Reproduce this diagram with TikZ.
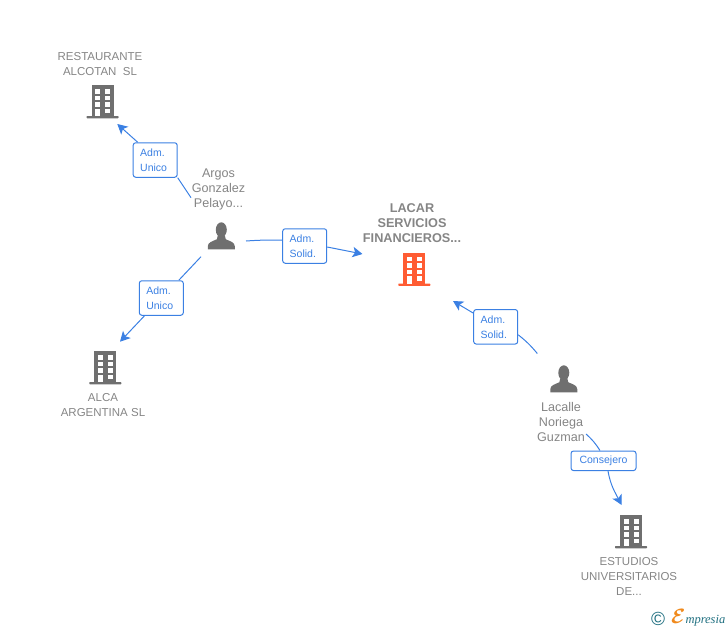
\documentclass[tikz,border=0pt]{standalone}
\usepackage{fontspec}
\setmainfont{Liberation Sans}
\newfontfamily\logofont{Liberation Serif}
\usetikzlibrary{arrows.meta}
\definecolor{linkblue}{HTML}{3B80E3}
\definecolor{icongray}{HTML}{6F6F6F}
\definecolor{textgray}{HTML}{858585}
\definecolor{mainorange}{HTML}{FF5C33}
\definecolor{logoteal}{HTML}{1F6F80}
\definecolor{logoorange}{HTML}{F08A1D}
\tikzset{
  lbl/.style={text=textgray, font=\fontsize{11.5}{15}\selectfont, align=center, inner sep=0pt},
  perslbl/.style={lbl, font=\fontsize{12.6}{15}\selectfont},
  rel/.style={draw=linkblue, fill=white, rounded corners=2.5pt, line width=1pt, text=linkblue,
    font=\fontsize{10.5}{15}\selectfont, align=left, text width=30pt, inner xsep=7pt, inner ysep=0pt,
    minimum width=44pt, minimum height=34.5pt},
  link/.style={draw=linkblue, line width=1pt},
  tip/.style={link, -{Stealth[length=10pt,width=10.5pt,inset=2.5pt]}},
  pics/bldg/.style={code={
    \fill[pic actions] (-11,-31) rectangle (11,0);
    \fill[pic actions, rounded corners=0.6pt] (-16,0) rectangle (16,2.3);
    \foreach \r in {-27,-20.5,-14} {
      \fill[white] (-7.5,\r) rectangle (-2.5,\r+4.5);
      \fill[white] (2.5,\r) rectangle (7.5,\r+4.5);
    }
    \fill[white] (-7.5,-7.5) rectangle (-2.5,0);
    \fill[white] (2.5,-7.5) rectangle (7.5,-3);
  }},
  pics/pers/.style={code={
    \fill[icongray] (0,-19.5) ellipse (5.5 and 7.5);
    \fill[icongray] (-13.5,0) -- (-13.5,-3) .. controls (-13.5,-7) and (-9,-8) .. (-4.5,-10)
      -- (-3.5,-14) -- (3.5,-14) -- (4.5,-10) .. controls (9,-8) and (13.5,-7) .. (13.5,-3) -- (13.5,0) -- cycle;
  }},
}
\begin{document}
\begin{tikzpicture}[x=1pt, y=-1pt]
\useasboundingbox (0,0) rectangle (728,630);

% icons
\pic[fill=icongray] at (102.5,116) {bldg};
\pic[fill=mainorange] at (414.3,283.5) {bldg};
\pic[fill=icongray] at (105.3,382) {bldg};
\pic[fill=icongray] at (631,546) {bldg};
\pic at (221.3,249.3) {pers};
\pic at (563.8,392.3) {pers};

% names
\node[lbl] (restaurante) at (100,64) {RESTAURANTE\\ALCOTAN\ \ SL};
\node[perslbl] (argos) at (218.5,189) {Argos\\Gonzalez\\Pelayo...};
\node[lbl, font=\fontsize{12.7}{15}\selectfont\bfseries] (lacar) at (412,223) {LACAR\\SERVICIOS\\FINANCIEROS...};
\node[lbl] (alca) at (103,405) {ALCA\\ARGENTINA SL};
\node[perslbl] (lacalle) at (561,422) {Lacalle\\Noriega\\Guzman};
\node[lbl] (estudios) at (629,576.5) {ESTUDIOS\\UNIVERSITARIOS\\DE...};

% relation boxes
\node[rel] (unicoA) at (155.2,160) {Adm.\\Unico};
\node[rel] (solidA) at (304.7,246) {Adm.\\Solid.};
\node[rel] (unicoB) at (161.3,298) {Adm.\\Unico};
\node[rel] (solidB) at (495.7,326.8) {Adm.\\Solid.};
\node[rel, align=center, text width=51pt, minimum height=19.5pt] (consejero) at (603.5,460.8) {Consejero};

% free ends
\coordinate (argosUp) at (191,197.7);
\coordinate (argosRight) at (246,241);
\coordinate (argosDown) at (201,256.7);
\coordinate (lacalleUp) at (537.3,353.5);
\coordinate (lacalleDown) at (586,434);
\coordinate (toRestaurante) at (117.3,124);
\coordinate (toLacarA) at (362.5,254);
\coordinate (toAlca) at (120,341.7);
\coordinate (toLacarB) at (453,301);
\coordinate (toEstudios) at (621.7,505);

\draw[link] (argosUp) -- (unicoA.south east);
\draw[tip] ([xshift=5pt]unicoA.north west) -- (toRestaurante);
\draw[link] (argosRight) to[out=4, in=180] (solidA.west |- 0,240);
\draw[tip] (solidA.east |- 0,247) -- (toLacarA);
\draw[link] (argosDown) -- ([xshift=-5pt]unicoB.north east);
\draw[tip] ([xshift=5.7pt]unicoB.south west) -- (toAlca);
\draw[link] (lacalleUp) to[bend right=6] ([yshift=-8pt]solidB.east);
\draw[tip] ([yshift=-4pt]solidB.north west) -- (toLacarB);
\draw[link] (lacalleDown) to[bend left=8] ([xshift=-3.5pt]consejero.north);
\draw[tip] ([xshift=4.5pt]consejero.south) to[out=-80, in=118] (toEstudios);

% logo
\node[inner sep=0pt, text=logoteal, font=\fontsize{19}{19}\selectfont] (copyr) at (658,619) {©};
\node[inner sep=0pt, anchor=west, text=logoteal, font=\logofont\fontsize{12.5}{12.5}\selectfont\itshape] (logo) at (671,618)
  {{\color{logoorange}\fontsize{21}{21}\selectfont\boldmath$\mathcal{E}$}mpresia};
\end{tikzpicture}
\end{document}
